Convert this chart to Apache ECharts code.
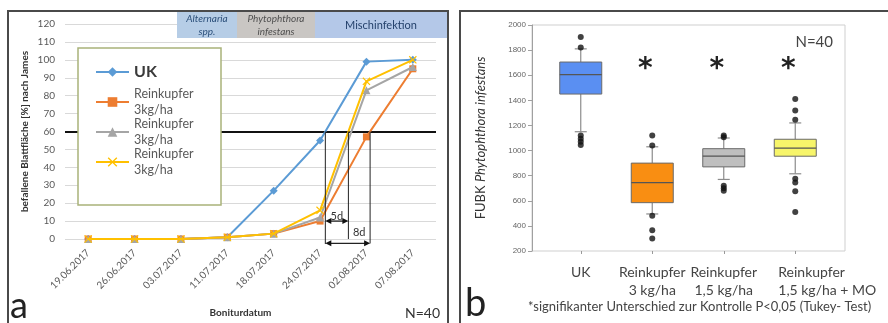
<!DOCTYPE html>
<html><head><meta charset="utf-8">
<script src="https://cdn.jsdelivr.net/npm/echarts@6/dist/echarts.min.js"></script>
<style>html,body{margin:0;padding:0;background:#fff}#c{width:888px;height:323px}</style>
</head><body><div id="c"></div>
<script>
// ---------- Panel a: data ----------
const dates = ['19.06.2017','26.06.2017','03.07.2017','11.07.2017','18.07.2017','24.07.2017','02.08.2017','07.08.2017'];
const lineNames = ['UK', 'Reinkupfer\n3kg/ha', 'Reinkupfer\n3kg/ha ', 'Reinkupfer\n3kg/ha  '];
const ukValues = [0, 0, 0, 1, 27, 55, 99, 100];
const rkOrangeValues = [0, 0, 0, 1, 3, 10, 57, 95];
const rkGrayValues = [0, 0, 0, 1, 3, 12, 83, 96];
const rkYellowValues = [0, 0, 0, 1, 3, 16, 88, 100];
const threshold = 60;
const leftYTicks = {min: 0, max: 120, step: 10};
// phase bands above panel a
const phaseLabels = [['Alternaria', 'spp.'], ['Phytophthora', 'infestans'], ['Mischinfektion']];
const spanLabels = ['5d', '8d'];

// ---------- Panel b: data ----------
const boxCategories = ['UK', 'Reinkupfer\n3 kg/ha', 'Reinkupfer\n1,5 kg/ha', 'Reinkupfer\n1,5 kg/ha + MO'];
// [lower whisker, Q1, median, Q3, upper whisker]
const boxStats = [
  [1150, 1450, 1605, 1705, 1810],
  [495, 585, 745, 900, 1030],
  [770, 870, 955, 1015, 1100],
  [815, 955, 1020, 1090, 1220]
];
const outliers = [
  [0, 1905], [0, 1820], [0, 1120], [0, 1095], [0, 1070], [0, 1045],
  [1, 1120], [1, 1040], [1, 480], [1, 365], [1, 300],
  [2, 1120], [2, 1105], [2, 720], [2, 700], [2, 680],
  [3, 1410], [3, 1320], [3, 1245], [3, 775], [3, 745], [3, 675], [3, 510]
];
const significant = [false, true, true, true];
const sigMarkLevel = 1640;
const rightYTicks = {min: 200, max: 2000, step: 200};
const footnote = '*signifikanter Unterschied zur Kontrolle P<0,05 (Tukey- Test)';

// ---------- helpers ----------
const allLines = [ukValues, rkOrangeValues, rkGrayValues, rkYellowValues];
function crossing(arr, t) {
  for (let i = 0; i < arr.length - 1; i++) {
    if (arr[i] < t && arr[i + 1] >= t) return i + (t - arr[i]) / (arr[i + 1] - arr[i]);
  }
  return null;
}
const cross = allLines.map(a => crossing(a, threshold));

const colors = ['#5b9bd5', '#ed7d31', '#a5a5a5', '#ffc000'];
const symbols = ['diamond', 'rect', 'triangle',
  'path://M0,1L1,0L5,4L9,0L10,1L6,5L10,9L9,10L5,6L1,10L0,9L4,5Z'];
const symbolSizes = [8, 7, 8, 8];
const boxColors = ['#5a8ff2', '#f98e12', '#bfbfbf', '#f7f56a'];

const chart = echarts.init(document.getElementById('c'), null, {renderer: 'canvas'});

const lineSeries = allLines.map((vals, k) => ({
  type: 'line', name: lineNames[k], data: vals,
  xAxisIndex: 0, yAxisIndex: 0,
  symbol: symbols[k], symbolSize: symbolSizes[k],
  color: colors[k],
  lineStyle: {width: 2, color: colors[k]},
  itemStyle: {color: colors[k], borderWidth: 0},
  z: 2 + k,
  markLine: k === 0 ? {
    silent: true, symbol: 'none', label: {show: false}, z: 1,
    lineStyle: {color: '#111', width: 2, type: 'solid'},
    data: [{yAxis: threshold}]
  } : undefined
}));

const annotSeries = {
  type: 'custom', xAxisIndex: 1, yAxisIndex: 0, silent: true, z: 6, clip: false,
  data: [[0, 0]],
  renderItem: function (params, api) {
    const ch = [];
    const pos = (x, y) => api.coord([x, y]);
    const stroke = {stroke: '#222', lineWidth: 1};
    const vline = (x, yb) => {
      const a = pos(x, threshold), b = pos(x, yb);
      ch.push({type: 'line', shape: {x1: a[0], y1: a[1], x2: b[0], y2: b[1]}, style: stroke});
    };
    vline(cross[0], -2.8);
    vline(cross[3], 0);
    vline(cross[1], -2.5);
    const arrow = (x1, x2, yv) => {
      const a = pos(x1, yv), b = pos(x2, yv);
      ch.push({type: 'line', shape: {x1: a[0] + 4, y1: a[1], x2: b[0] - 4, y2: b[1]}, style: {stroke: '#222', lineWidth: 1.3}});
      ch.push({type: 'polygon', shape: {points: [[a[0], a[1]], [a[0] + 6, a[1] - 3], [a[0] + 6, a[1] + 3]]}, style: {fill: '#111'}});
      ch.push({type: 'polygon', shape: {points: [[b[0], b[1]], [b[0] - 6, b[1] - 3], [b[0] - 6, b[1] + 3]]}, style: {fill: '#111'}});
    };
    arrow(cross[0], cross[3], 10);
    arrow(cross[0], cross[1], -2.4);
    const lbl = (x1, x2, yv, t) => {
      const p = pos((x1 + x2) / 2, yv);
      ch.push({type: 'text', x: p[0], y: p[1], style: {text: t, fill: '#333', font: '11px Lato', align: 'center', verticalAlign: 'middle'}});
    };
    lbl(cross[0], cross[3], 12.7, spanLabels[0]);
    lbl(cross[3], cross[1], 3.6, spanLabels[1]);
    return {type: 'group', children: ch};
  }
};

const boxSeries = {
  type: 'custom', xAxisIndex: 3, yAxisIndex: 2, z: 3, clip: false,
  data: boxStats.map((s, i) => [i].concat(s)),
  encode: {x: 0, y: [1, 2, 3, 4, 5]},
  renderItem: function (params, api) {
    const i = api.value(0);
    const v = [1, 2, 3, 4, 5].map(k => api.value(k));
    const x = api.coord([i, v[2]])[0];
    const y = val => api.coord([i, val])[1];
    const bw = 42, cw = 12;
    const ch = [];
    const wStyle = {stroke: '#8c8c8c', lineWidth: 1.2};
    ch.push({type: 'line', shape: {x1: x, y1: y(v[0]), x2: x, y2: y(v[1])}, style: wStyle});
    ch.push({type: 'line', shape: {x1: x, y1: y(v[3]), x2: x, y2: y(v[4])}, style: wStyle});
    ch.push({type: 'line', shape: {x1: x - cw / 2, y1: y(v[0]), x2: x + cw / 2, y2: y(v[0])}, style: wStyle});
    ch.push({type: 'line', shape: {x1: x - cw / 2, y1: y(v[4]), x2: x + cw / 2, y2: y(v[4])}, style: wStyle});
    ch.push({type: 'rect', shape: {x: x - bw / 2, y: y(v[3]), width: bw, height: y(v[1]) - y(v[3])},
      style: {fill: boxColors[i], stroke: '#6a6a6a', lineWidth: 1}});
    ch.push({type: 'line', shape: {x1: x - bw / 2, y1: y(v[2]), x2: x + bw / 2, y2: y(v[2])}, style: {stroke: '#555', lineWidth: 1.2}});
    if (significant[i]) {
      ch.push({type: 'text', x: x - 7, y: y(sigMarkLevel), style: {text: '*', fill: '#222', font: 'bold 28px "DejaVu Sans"', align: 'center', verticalAlign: 'middle'}});
    }
    return {type: 'group', children: ch};
  }
};

const outlierSeries = {
  type: 'scatter', xAxisIndex: 3, yAxisIndex: 2, data: outliers,
  symbol: 'circle', symbolSize: 6, itemStyle: {color: '#111'}, z: 4, silent: true
};

const lastBox = boxCategories.length - 1;
const boxAxisData = boxCategories.map((c, i) => i === lastBox
  ? {value: c, textStyle: {padding: [0, 0, 0, 64]}}
  : c);

const option = {
  animation: false,
  backgroundColor: '#fff',
  textStyle: {fontFamily: 'Lato'},
  grid: [
    {left: 65, top: 24, width: 371, height: 220, containLabel: false},
    {left: 532, top: 25, width: 313, height: 226, show: true, borderColor: '#cfcfcf', borderWidth: 1, backgroundColor: 'transparent'},
    {left: 545, top: 25, width: 286, height: 226}
  ],
  legend: {
    orient: 'vertical', left: 95, top: 56, padding: 0, itemGap: -2,
    itemWidth: 33, itemHeight: 12,
    data: [
      {name: lineNames[0], textStyle: {fontSize: 16, fontWeight: 'bold', color: '#3a3a3a', lineHeight: 32}},
      {name: lineNames[1]}, {name: lineNames[2]}, {name: lineNames[3]}
    ],
    textStyle: {fontSize: 12.5, lineHeight: 16, color: '#5a5a5a', fontFamily: 'Lato'},
    selectedMode: false, z: 12
  },
  xAxis: [
    {type: 'category', gridIndex: 0, data: dates, boundaryGap: true,
      axisLine: {show: false}, axisTick: {show: false},
      axisLabel: {rotate: 45, fontSize: 10, color: '#595959', margin: 12, interval: 0},
      name: 'Boniturdatum', nameLocation: 'middle', nameGap: 69,
      nameTextStyle: {fontSize: 10, fontWeight: 'bold', color: '#333', padding: [0, 20, 0, 0]}},
    {type: 'value', gridIndex: 0, min: -0.5, max: dates.length - 0.5, show: false},
    {type: 'value', gridIndex: 1, min: 0, max: 1, show: false},
    {type: 'category', gridIndex: 2, data: boxAxisData, boundaryGap: true,
      axisLine: {show: false},
      axisTick: {show: true, alignWithLabel: true, length: 3, lineStyle: {color: '#999'}},
      axisLabel: {fontSize: 14, lineHeight: 18, color: '#444', margin: 12, interval: 0,
        formatter: function (v, idx) {
          return idx === lastBox ? v.split('\n').map(s => '{l|' + s + '}').join('\n') : v;
        },
        rich: {l: {align: 'left', fontSize: 14, lineHeight: 18, color: '#444', fontFamily: 'Lato'}}}}
  ],
  yAxis: [
    {type: 'value', gridIndex: 0, min: leftYTicks.min, max: leftYTicks.max, interval: leftYTicks.step,
      axisLine: {show: false}, axisTick: {show: false},
      axisLabel: {fontSize: 10, color: '#595959', margin: 10},
      splitLine: {lineStyle: {color: '#d9d9d9', width: 1}},
      name: 'befallene Blattfläche [%] nach James', nameLocation: 'middle', nameGap: 35, nameRotate: 90,
      nameTextStyle: {fontSize: 10, fontWeight: 'bold', color: '#333'}},
    {type: 'value', gridIndex: 1, min: rightYTicks.min, max: rightYTicks.max, interval: rightYTicks.step,
      axisLine: {show: true, lineStyle: {color: '#a0a0a0'}},
      axisTick: {show: true, length: 4, lineStyle: {color: '#a0a0a0'}},
      axisLabel: {fontSize: 8, color: '#666', margin: 6, fontFamily: 'Liberation Sans', formatter: v => String(v)},
      splitLine: {show: false},
      name: '{n|FUBK }{i|Phytophthora infestans}', nameLocation: 'middle', nameGap: 45, nameRotate: 90,
      nameTextStyle: {rich: {n: {fontSize: 13, color: '#333', fontFamily: 'Lato'}, i: {fontSize: 13, color: '#333', fontStyle: 'italic', fontFamily: 'Lato'}}}},
    {type: 'value', gridIndex: 2, min: rightYTicks.min, max: rightYTicks.max, show: false}
  ],
  series: lineSeries.concat([annotSeries, boxSeries, outlierSeries]),
  graphic: [
    {type: 'rect', shape: {x: 8, y: 11, width: 440, height: 330}, style: {fill: 'none', stroke: '#4a4a4a', lineWidth: 2}, z: 20, silent: true},
    {type: 'rect', shape: {x: 460, y: 11, width: 440, height: 330}, style: {fill: 'none', stroke: '#4a4a4a', lineWidth: 2}, z: 20, silent: true},
    {type: 'rect', shape: {x: 177, y: 12, width: 60, height: 26}, style: {fill: '#b6cde6'}, z: 15, silent: true},
    {type: 'rect', shape: {x: 237, y: 12, width: 78, height: 26}, style: {fill: '#c9c6c3'}, z: 15, silent: true},
    {type: 'rect', shape: {x: 315, y: 12, width: 132, height: 26}, style: {fill: '#b4c8e8'}, z: 15, silent: true},
    {type: 'text', x: 207, y: 25, z: 16, silent: true, style: {text: phaseLabels[0].join('\n'), font: 'italic 10px Lato', lineHeight: 13, fill: '#2b4f7a', align: 'center', verticalAlign: 'middle'}},
    {type: 'text', x: 276, y: 25, z: 16, silent: true, style: {text: phaseLabels[1].join('\n'), font: 'italic 10px Lato', lineHeight: 13, fill: '#505050', align: 'center', verticalAlign: 'middle'}},
    {type: 'text', x: 381, y: 25, z: 16, silent: true, style: {text: phaseLabels[2][0], font: '11px Lato', fill: '#24416b', align: 'center', verticalAlign: 'middle'}},
    {type: 'rect', shape: {x: 78, y: 48, width: 143, height: 157}, style: {fill: '#fff', stroke: '#a9b27a', lineWidth: 1.5}, z: 8, silent: true},
    {type: 'text', x: 10, y: 306, z: 16, silent: true, style: {text: 'a', font: '36px Lato', fill: '#222', verticalAlign: 'middle'}},
    {type: 'text', x: 440, y: 313, z: 16, silent: true, style: {text: 'N=40', font: '14px Lato', fill: '#333', align: 'right', verticalAlign: 'middle'}},
    {type: 'text', x: 465, y: 304, z: 16, silent: true, style: {text: 'b', font: '38px Lato', fill: '#222', verticalAlign: 'middle'}},
    {type: 'text', x: 833, y: 42, z: 16, silent: true, style: {text: 'N=40', font: '15px Lato', fill: '#444', align: 'right', verticalAlign: 'middle'}},
    {type: 'text', x: 528, y: 307, z: 16, silent: true, style: {text: footnote, font: '13px Lato', fill: '#444', verticalAlign: 'middle'}}
  ]
};
chart.setOption(option);
</script>
</body></html>
